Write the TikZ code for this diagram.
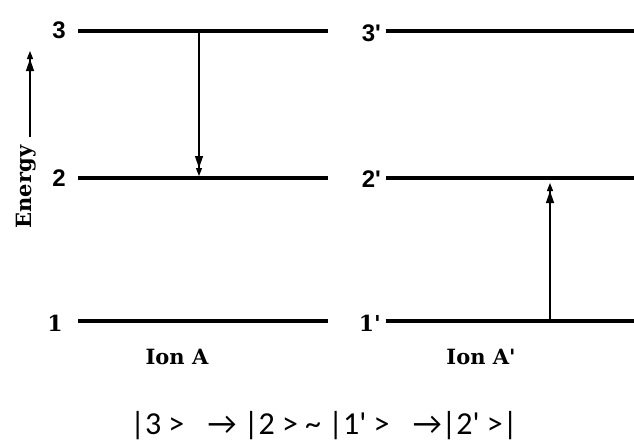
\documentclass[tikz,border=0pt]{standalone}
\usepackage{fontspec}
\setmainfont{DejaVu Serif}
\newfontfamily\lvlsans{Liberation Sans}
\newfontfamily\formfont{Carlito}
\usetikzlibrary{arrows.meta}
\begin{document}
\begin{tikzpicture}[x=1pt,y=-1pt,
  level/.style={line width=3.6pt},
  trans/.style={line width=1.3pt,-{Triangle[length=12pt,width=8pt]Triangle[length=8pt,width=6pt,sep=-4pt]}},
  slab/.style={font=\lvlsans\bfseries\fontsize{24}{26}\selectfont,anchor=east,inner sep=0pt},
  rlab/.style={font=\bfseries\fontsize{22}{24}\selectfont,anchor=east,inner sep=0pt},
  ion/.style={font=\bfseries\fontsize{21}{24}\selectfont,inner sep=0pt}]
\useasboundingbox (0,0) rectangle (634,442);
% level end points
\coordinate (L3a) at (78,31);  \coordinate (L3b) at (328,31);
\coordinate (L2a) at (78,178); \coordinate (L2b) at (328,178);
\coordinate (L1a) at (78,321); \coordinate (L1b) at (328,321);
\coordinate (R3a) at (386,31);  \coordinate (R3b) at (634,31);
\coordinate (R2a) at (386,178); \coordinate (R2b) at (634,178);
\coordinate (R1a) at (386,321); \coordinate (R1b) at (634,321);
\foreach \n in {L3,L2,L1,R3,R2,R1} \draw[level] (\n a) -- (\n b);
% level labels
\node[slab] (n3) at (66,30) {3};
\node[slab] (n2) at (66,178) {2};
\node[rlab] (n1) at (63,323) {1};
\node[slab] (n3p) at (381,33) {3\textquotesingle};
\node[slab] (n2p) at (381,179) {2\textquotesingle};
\node[rlab] (n1p) at (381,323) {1\textquotesingle};
% transitions
\coordinate (t3) at (199,31); \coordinate (t2) at (199,178);
\draw[trans, shorten >=6pt] (t3) -- (t2);
\coordinate (u1) at (550,321); \coordinate (u2) at (550,178);
\draw[trans, shorten >=9pt] (u1) -- (u2);
% energy axis
\node[font=\bfseries\fontsize{21}{24}\selectfont, rotate=90, inner sep=0pt] (en) at (26,187) {Energy};
\coordinate (etop) at (30,55);
\coordinate (ebot) at (30,137);
\draw[trans] (ebot) -- (etop);
% ion labels
\node[ion] (ionA) at (177,357) {Ion A};
\node[ion] (ionAp) at (481,357) {Ion A\textquotesingle};
% formula
\node[font=\formfont\fontsize{32}{36}\selectfont, inner sep=0pt] (form) at (324,426) {\textbar 3 >\enspace\ → \textbar 2 > \textasciitilde{} \textbar 1\textquotesingle{} >\enspace\ →\textbar 2\textquotesingle{} >\textbar};
\end{tikzpicture}
\end{document}
